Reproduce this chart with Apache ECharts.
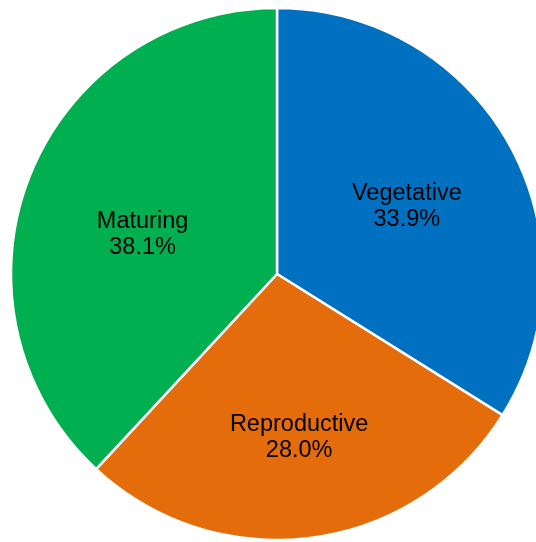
<!DOCTYPE html>
<html>
<head>
<meta charset="utf-8">
<script src="https://cdn.jsdelivr.net/npm/echarts@6/dist/echarts.min.js"></script>
<style>
html,body{margin:0;padding:0;background:#fff;}
#chart{width:536px;height:542px;}
</style>
</head>
<body>
<div id="chart"></div>
<script>
const categories = ['Vegetative', 'Reproductive', 'Maturing'];
const values = [33.9, 28.0, 38.1];
const colors = ['#0070C0', '#E46C0A', '#00B050'];

const labelShift = [[-4, 7], [2, 12], [8, 16]];

const chart = echarts.init(document.getElementById('chart'), null, {renderer: 'canvas'});
const data = categories.map((c, i) => ({name: c, value: values[i], itemStyle: {color: colors[i]}}));
const labelData = categories.map((c, i) => ({name: c, value: values[i]}));

chart.setOption({
  animation: false,
  series: [
    {
      type: 'pie',
      center: [277, 274],
      radius: [0, 266],
      startAngle: 90,
      clockwise: true,
      data: data,
      itemStyle: {borderColor: '#fff', borderWidth: 2.5},
      label: {show: false},
      labelLine: {show: false},
      emphasis: {disabled: true},
      silent: true
    },
    {
      type: 'pie',
      center: [277, 274],
      radius: [34, 266],
      startAngle: 90,
      clockwise: true,
      data: labelData,
      itemStyle: {color: 'rgba(0,0,0,0)', borderWidth: 0},
      label: {
        show: true,
        position: 'inside',
        formatter: p => p.name + '\n' + p.value.toFixed(1) + '%',
        fontFamily: 'Liberation Sans, Arial, sans-serif',
        fontSize: 23.5,
        lineHeight: 26,
        color: '#000'
      },
      labelLayout: p => ({dx: labelShift[p.dataIndex][0], dy: labelShift[p.dataIndex][1]}),
      labelLine: {show: false},
      emphasis: {disabled: true},
      silent: true,
      z: 3
    }
  ]
});
</script>
</body>
</html>
